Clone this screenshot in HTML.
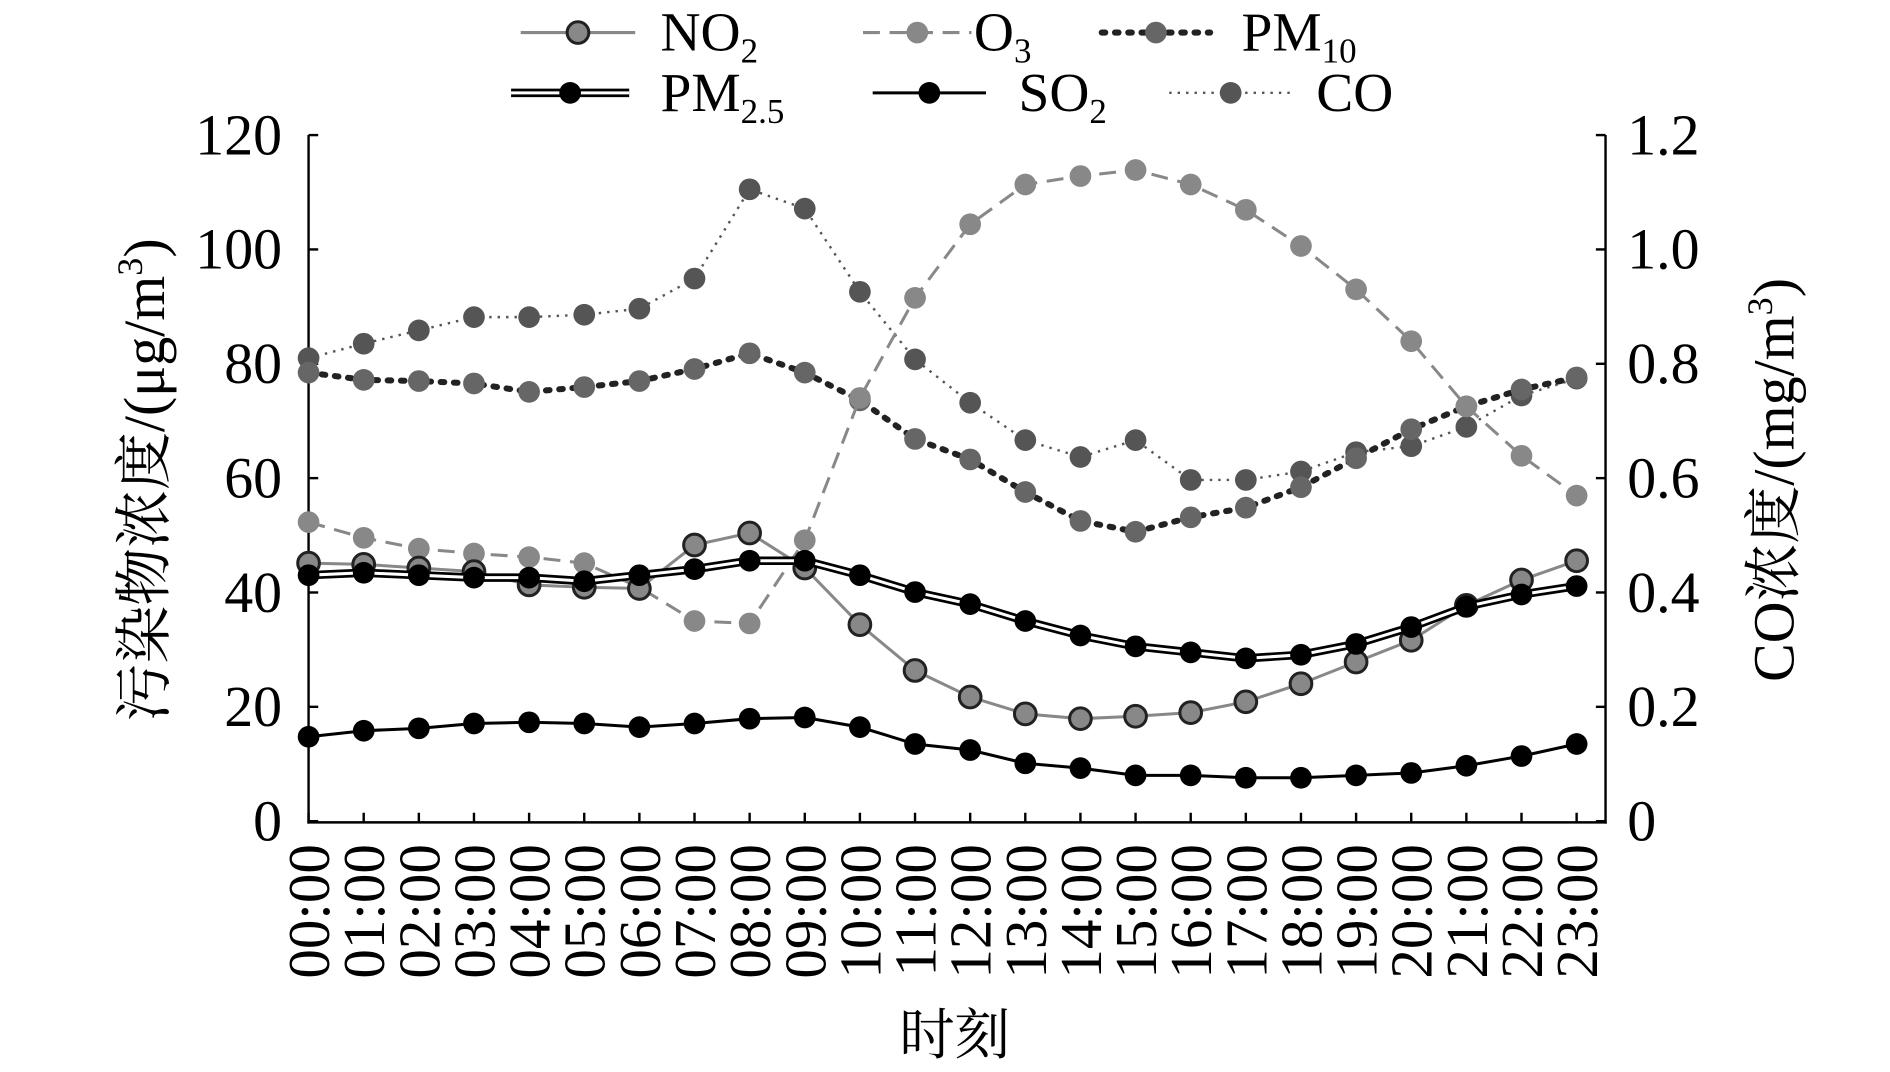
<!DOCTYPE html>
<html><head><meta charset="utf-8"><style>
html,body{margin:0;padding:0;background:#fff;}
svg{display:block;font-family:"Liberation Serif","Noto Serif CJK SC",serif;}
</style></head><body>
<svg id="s" width="1890" height="1072" viewBox="0 0 1568 889" preserveAspectRatio="none" xmlns="http://www.w3.org/2000/svg">
<rect width="1568" height="889" fill="#fff"/>
<g id="g"></g>
</svg>
<script>
const X=i=>256+i*45.74;
const D={
NO2:[467,468,471,474,485,487,488,452,442,471,518,556,578,592,596,594,591,582,567,549,531,502,481,465],
O3:[433,446,455,459,462,467,487,515,517,448,330,247,186,153,146,141,153,174,204,240,283,337,378,411],
PM10:[309,315,316,318,325,321,316,306,293,309,332,364,381,408,432,441,429,421,404,380,356,337,323,313],
CO:[297,285,274,263,263,261,256,231,157,173,242,298,334,365,379,365,398,398,391,375,370,354,328,314],
PM25:[477,475,477,479,479,482,477,472,465,465,477,491,501,515,527,536,541,546,543,534,520,503,493,486],
SO2:[611,606,604,600,599,600,603,600,596,595,603,617,622,633,637,643,643,645,645,643,641,635,627,617]};
let h='';
const pts=a=>a.map((y,i)=>X(i).toFixed(1)+','+y).join(' ');
function ser(a,line,mk){h+=`<polyline points="${pts(a)}" fill="none" ${line}/>`;if(line.indexOf('#000" stroke-width="7')>0)h+=`<polyline points="${pts(a)}" fill="none" stroke="#fff" stroke-width="2.5"/>`;a.forEach((y,i)=>h+=`<circle cx="${X(i)}" cy="${y}" r="9" ${mk}/>`);}
h+=`<line x1="256" y1="112" x2="256" y2="683" stroke="#000" stroke-width="2"/><line x1="1332" y1="112" x2="1332" y2="683" stroke="#000" stroke-width="2"/><line x1="255" y1="682" x2="1333" y2="682" stroke="#000" stroke-width="2"/>`;
for(let k=0;k<=6;k++){const y=681-k*94.83;h+=`<line x1="256" y1="${y}" x2="264" y2="${y}" stroke="#000" stroke-width="2"/><line x1="1324" y1="${y}" x2="1332" y2="${y}" stroke="#000" stroke-width="2"/>`;
h+=`<text x="234" y="${y+16}" font-size="48" text-anchor="end">${k*20}</text><text x="1350" y="${y+16}" font-size="48">${k==0?'0':(k*0.2).toFixed(1)}</text>`;}
for(let i=0;i<24;i++){const x=X(i);h+=`<line x1="${x}" y1="682" x2="${x}" y2="674" stroke="#000" stroke-width="2"/><text transform="translate(${x+17},700) rotate(-90)" font-size="49" text-anchor="end">${String(i).padStart(2,'0')}:00</text>`;}
h+=`<text x="792" y="874" font-size="46" text-anchor="middle">时刻</text>`;
h+=`<text transform="translate(136,398) rotate(-90)" font-size="48" text-anchor="middle">污染物浓度/(μg/m<tspan font-size="30" dy="-18">3</tspan><tspan dy="18">)</tspan></text>`;
h+=`<text transform="translate(1488,398) rotate(-90)" font-size="48" text-anchor="middle">CO浓度/(mg/m<tspan font-size="30" dy="-18">3</tspan><tspan dy="18">)</tspan></text>`;
ser(D.CO,'stroke="#555" stroke-width="2" stroke-dasharray="2,5"','fill="#555"');
ser(D.PM10,'stroke="#222" stroke-width="5" stroke-dasharray="3,8" stroke-linecap="round"','fill="#666"');
ser(D.O3,'stroke="#888" stroke-width="2.5" stroke-dasharray="14,8"','fill="#888"');
ser(D.NO2,'stroke="#888" stroke-width="2.5"','fill="#888" stroke="#222" stroke-width="2.5"');
ser(D.PM25,'stroke="#000" stroke-width="7"','fill="#000"');
ser(D.SO2,'stroke="#000" stroke-width="2.5"','fill="#000"');
function leg(x1,x2,y,line,mk,txt,tx){h+=`<line x1="${x1}" y1="${y}" x2="${x2}" y2="${y}" ${line}/>`;if(line.indexOf('width="7')>0)h+=`<line x1="${x1}" y1="${y}" x2="${x2}" y2="${y}" stroke="#fff" stroke-width="2.5"/>`;h+=`<circle cx="${(x1+x2)/2}" cy="${y}" r="9" ${mk}/><text x="${tx}" y="${y+15}" font-size="46">${txt}</text>`;}
const sub=s=>`<tspan font-size="29" dy="10">${s}</tspan>`;
leg(432,527,27,'stroke="#888" stroke-width="2.5"','fill="#888" stroke="#222" stroke-width="2.5"','NO'+sub('2'),548);
leg(716,806,27,'stroke="#888" stroke-width="2.5" stroke-dasharray="14,8"','fill="#888"','O'+sub('3'),808);
leg(914,1004,27,'stroke="#222" stroke-width="5" stroke-dasharray="3,8" stroke-linecap="round"','fill="#666"','PM'+sub('10'),1030);
leg(424,522,77,'stroke="#000" stroke-width="7"','fill="#000"','PM'+sub('2.5'),548);
leg(724,818,77,'stroke="#000" stroke-width="2.5"','fill="#000"','SO'+sub('2'),845);
leg(970,1072,77,'stroke="#555" stroke-width="2" stroke-dasharray="2,5"','fill="#555"','CO',1092);
document.getElementById('g').innerHTML=h;
</script>
</body></html>
